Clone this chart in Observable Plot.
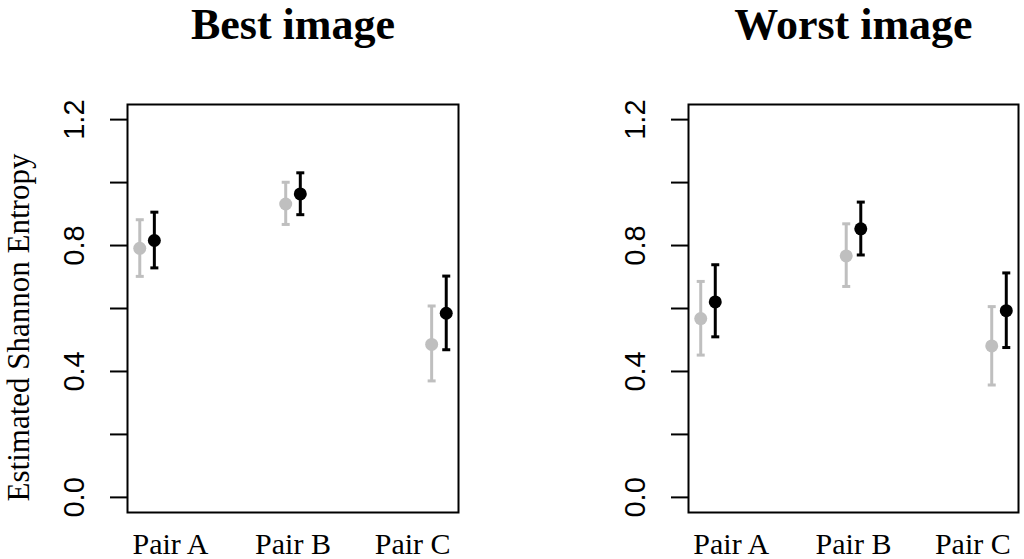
<!DOCTYPE html>
<html><head><meta charset="utf-8">
<script src="https://cdn.jsdelivr.net/npm/d3@7"></script>
<script src="https://cdn.jsdelivr.net/npm/@observablehq/plot@0.6"></script>
<style>
html,body{margin:0;padding:0;background:#fff;overflow:hidden;}
#wrap{position:relative;width:1024px;height:559px;}
#wrap svg{position:absolute;top:0;}
</style></head><body><div id="wrap"></div>
<script>
// ---- data ----
const categories = ["Pair A", "Pair B", "Pair C"];
const categoryPos = [1, 2, 3];
const categoryLabelPos = [1.16, 2.0, 2.82];
const panelTitles = ["Best image", "Worst image"];
const seriesNames = ["gray", "black"];
const seriesOffset = [-0.05, 0.05];
const yTicks = [0, 0.2, 0.4, 0.6, 0.8, 1.0, 1.2];
const yLabels = [0, 0.4, 0.8, 1.2];
const yTitle = "Estimated Shannon Entropy";

const bestGrayMean = [0.791, 0.932, 0.486];
const bestGrayLo   = [0.702, 0.867, 0.370];
const bestGrayHi   = [0.882, 1.001, 0.608];
const bestBlackMean = [0.816, 0.964, 0.585];
const bestBlackLo   = [0.729, 0.898, 0.469];
const bestBlackHi   = [0.906, 1.031, 0.703];

const worstGrayMean = [0.568, 0.767, 0.481];
const worstGrayLo   = [0.452, 0.670, 0.357];
const worstGrayHi   = [0.686, 0.869, 0.606];
const worstBlackMean = [0.621, 0.853, 0.593];
const worstBlackLo   = [0.510, 0.770, 0.476];
const worstBlackHi   = [0.739, 0.938, 0.713];

// ---- build ----
const seriesColor = {gray: "#bfbfbf", black: "#000000"};
function rowsFor(sets) {
  const rows = [];
  sets.forEach(([mean, lo, hi], s) => {
    categories.forEach((c, i) => {
      rows.push({cat: c, series: seriesNames[s], x: categoryPos[i] + seriesOffset[s],
        mean: mean[i], lo: lo[i], hi: hi[i], color: seriesColor[seriesNames[s]]});
    });
  });
  return rows;
}
const panelRows = [
  rowsFor([[bestGrayMean, bestGrayLo, bestGrayHi], [bestBlackMean, bestBlackLo, bestBlackHi]]),
  rowsFor([[worstGrayMean, worstGrayLo, worstGrayHi], [worstBlackMean, worstBlackLo, worstBlackHi]])
];

const hline = {draw(ctx, size) { const r = Math.sqrt(size / Math.PI); ctx.moveTo(-r, 0); ctx.lineTo(r, 0); }};
const fmt = d3.format(".1f");

function panel(title, rows, ml, mr, withYTitle) {
  return Plot.plot({
    width: 512, height: 559,
    marginTop: 104, marginBottom: 47, marginLeft: ml, marginRight: mr,
    x: {domain: [0.866, 3.134], axis: null},
    y: {domain: [-0.048, 1.248], axis: null},
    color: {type: "identity"},
    style: {background: "white", color: "black", fontFamily: "Liberation Sans, Arial, sans-serif", fontSize: "29px", overflow: "visible"},
    marks: [
      Plot.frame({stroke: "black", strokeWidth: 2}),
      Plot.axisY({ticks: yTicks, tickSize: 17, tickPadding: 27, tickRotate: -90, strokeWidth: 2,
        tickFormat: d => yLabels.some(v => Math.abs(v - d) < 1e-9) ? fmt(d) : "",
        fontSize: 29, fontFamily: "Liberation Sans, Arial, sans-serif", label: null}),
      Plot.text(categories.map((c, i) => ({c, p: categoryLabelPos[i]})), {x: "p", text: "c", frameAnchor: "bottom",
        lineAnchor: "bottom", dy: 41, fontSize: 30, fontFamily: "Liberation Serif, Times New Roman, serif"}),
      Plot.text([title], {frameAnchor: "top", textAnchor: "middle", lineAnchor: "bottom", dy: -66, fontSize: 44, fontWeight: "bold",
        fontFamily: "Liberation Serif, Times New Roman, serif"}),
      withYTitle ? Plot.text([yTitle], {frameAnchor: "left", textAnchor: "middle", rotate: -90, lineAnchor: "bottom", dx: -99, dy: 19,
        fontSize: 31, fontFamily: "Liberation Serif, Times New Roman, serif"}) : null,
      Plot.ruleX(rows, {x: "x", y1: "lo", y2: "hi", stroke: "color", strokeWidth: 3}),
      Plot.dot(rows, {x: "x", y: "lo", symbol: hline, r: 4, stroke: "color", strokeWidth: 3, fill: "none"}),
      Plot.dot(rows, {x: "x", y: "hi", symbol: hline, r: 4, stroke: "color", strokeWidth: 3, fill: "none"}),
      Plot.dot(rows, {x: "x", y: "mean", r: 6.5, fill: "color", stroke: "none"})
    ]
  });
}

const wrap = document.getElementById("wrap");
const left = panel(panelTitles[0], panelRows[0], 127, 54, true);
left.style.left = "0px";
wrap.appendChild(left);
const right = panel(panelTitles[1], panelRows[1], 176, 6, false);
right.style.left = "512px";
wrap.appendChild(right);
</script></body></html>
